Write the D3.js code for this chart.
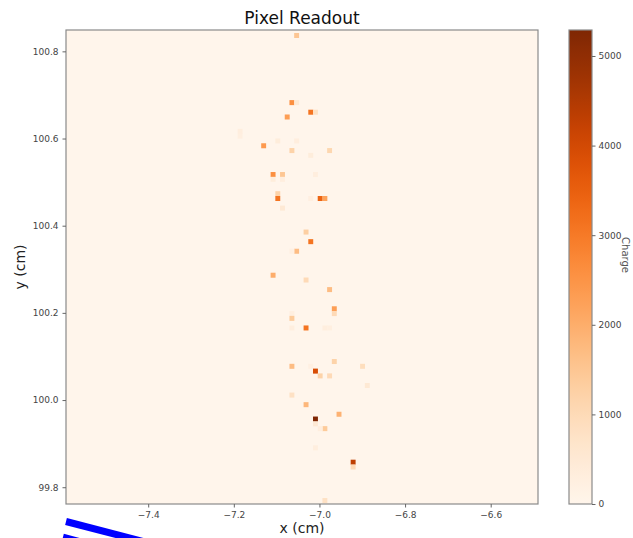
<!DOCTYPE html>
<html>
<head>
<meta charset="utf-8">
<script src="https://cdn.jsdelivr.net/npm/d3@7"></script>
<style>
  body { margin: 0; background: #fff; }
  svg { display: block; }
  svg text { font-family: 'DejaVu Sans', sans-serif; }
</style>
</head>
<body>
<svg width="633" height="538"></svg>
<script>
// Pixel readout data: pixel centres (cm) and charge
let pixelX = [
  -7.0533, -7.0643, -7.0533, -7.0203, -7.0093, -7.0753, -7.1853, -7.1853, -7.0973, -7.0533,
  -7.1303, -7.0643, -6.9763, -7.0203, -7.1083, -7.0863, -7.1083, -7.0863, -7.0093, -7.0973,
  -7.0973, -7.0203, -6.9983, -6.9873, -7.0863, -7.0313, -7.0203, -7.0533, -7.0643, -7.1083,
  -7.0313, -6.9763, -6.9653, -6.9653, -7.0643, -7.0643, -7.0313, -7.0643, -6.9873, -6.9763,
  -6.9653, -7.0643, -7.0203, -6.8993, -7.0093, -6.9983, -6.9763, -6.8883, -7.0643, -7.0313,
  -6.9543, -7.0093, -7.0093, -6.9873, -6.9983, -7.0093, -6.9213, -6.9213, -6.9873
];
let pixelY = [
  100.8364, 100.6824, 100.6824, 100.6604, 100.6604, 100.6494, 100.6164, 100.6054, 100.5944, 100.5944,
  100.5834, 100.5724, 100.5724, 100.5614, 100.5174, 100.5174, 100.5064, 100.5064, 100.5174, 100.4734,
  100.4624, 100.4624, 100.4624, 100.4624, 100.4404, 100.3854, 100.3634, 100.3414, 100.3414, 100.2864,
  100.2754, 100.2534, 100.2094, 100.1984, 100.1984, 100.1874, 100.1654, 100.1654, 100.1654, 100.1654,
  100.0884, 100.0774, 100.0774, 100.0774, 100.0664, 100.0554, 100.0554, 100.0334, 100.0114, 99.9894,
  99.9674, 99.9564, 99.9454, 99.9344, 99.9344, 99.8904, 99.8574, 99.8464, 99.7694
];
let charge = [
  1500, 2600, 500, 3100, 800, 2300, 300, 250, 350, 300,
  2400, 1200, 1100, 350, 2600, 1500, 350, 300, 300, 1200,
  3100, 250, 3400, 2200, 500, 1300, 3100, 1700, 200, 2000,
  1000, 1700, 2300, 1000, 250, 1400, 3100, 300, 300, 250,
  1200, 1700, 200, 900, 3900, 1200, 1000, 500, 800, 1800,
  1900, 5290, 500, 1400, 300, 300, 4300, 1000, 800
];

let xTicks = [-7.4, -7.2, -7.0, -6.8, -6.6];
let yTicks = [99.8, 100.0, 100.2, 100.4, 100.6, 100.8];
let cbTicks = [0, 1000, 2000, 3000, 4000, 5000];

let xDomain = [-7.592, -6.4895];
let yDomain = [99.7615, 100.849];
let chargeMax = 5290;
let pixelSize = 0.0115;

let svg = d3.select('svg');
let margin = { left: 66, right: 538, top: 30, bottom: 504 };

let x = d3.scaleLinear().domain(xDomain).range([margin.left, margin.right]);
let y = d3.scaleLinear().domain(yDomain).range([margin.bottom, margin.top]);
let color = d3.scaleSequential(d3.interpolateOranges).domain([0, chargeMax]);

let pixels = charge.map((c, i) => ({ x: pixelX[i], y: pixelY[i], c: c }));

// Plot background (zero charge)
svg.append('rect')
    .attr('x', margin.left)
    .attr('y', margin.top)
    .attr('width', margin.right - margin.left)
    .attr('height', margin.bottom - margin.top)
    .attr('fill', color(0));

// Pixels
svg.append('g')
    .selectAll('rect')
    .data(pixels)
    .enter().append('rect')
      .attr('x', d => x(d.x - pixelSize / 2))
      .attr('y', d => y(d.y + pixelSize / 2))
      .attr('width', d => x(d.x + pixelSize / 2) - x(d.x - pixelSize / 2))
      .attr('height', d => y(d.y - pixelSize / 2) - y(d.y + pixelSize / 2))
      .attr('fill', d => color(d.c));

// Frame
svg.append('rect')
    .attr('x', margin.left)
    .attr('y', margin.top)
    .attr('width', margin.right - margin.left)
    .attr('height', margin.bottom - margin.top)
    .attr('fill', 'none')
    .attr('stroke', '#8a8a8a')
    .attr('stroke-width', 1.2);

// Axes
let fmt = d => d3.format('.1f')(d).replace('-', '\u2212');

let xAxis = svg.append('g')
    .attr('transform', 'translate(0,' + margin.bottom + ')')
    .call(d3.axisBottom(x).tickValues(xTicks).tickFormat(fmt).tickSize(3.5).tickPadding(4));

let yAxis = svg.append('g')
    .attr('transform', 'translate(' + margin.left + ',0)')
    .call(d3.axisLeft(y).tickValues(yTicks).tickFormat(fmt).tickSize(3.5).tickPadding(4));

[xAxis, yAxis].forEach(a => {
  a.attr('font-family', null);
  a.select('.domain').remove();
  a.selectAll('line').attr('stroke', '#666');
  a.selectAll('text').attr('fill', '#444').style('font-size', '9px');
});

// Titles
svg.append('text')
    .attr('x', (margin.left + margin.right) / 2)
    .attr('y', 24)
    .attr('text-anchor', 'middle')
    .style('font-size', '17px')
    .attr('fill', '#111')
    .text('Pixel Readout');

svg.append('text')
    .attr('x', (margin.left + margin.right) / 2)
    .attr('y', 533)
    .attr('text-anchor', 'middle')
    .style('font-size', '14px')
    .attr('fill', '#222')
    .text('x (cm)');

svg.append('text')
    .attr('transform', 'translate(25,' + (margin.top + margin.bottom) / 2 + ') rotate(-90)')
    .attr('text-anchor', 'middle')
    .style('font-size', '14px')
    .attr('fill', '#222')
    .text('y (cm)');

// Colorbar
let cb = { left: 569, right: 592 };
let cbScale = d3.scaleLinear().domain([0, chargeMax]).range([margin.bottom, margin.top]);

let grad = svg.append('defs').append('linearGradient')
    .attr('id', 'cbgrad')
    .attr('x1', 0).attr('y1', 1).attr('x2', 0).attr('y2', 0);
grad.selectAll('stop')
    .data(d3.range(0, 1.0001, 0.02))
    .enter().append('stop')
      .attr('offset', d => d)
      .attr('stop-color', d => color(d * chargeMax));

svg.append('rect')
    .attr('x', cb.left)
    .attr('y', margin.top)
    .attr('width', cb.right - cb.left)
    .attr('height', margin.bottom - margin.top)
    .attr('fill', 'url(#cbgrad)')
    .attr('stroke', '#8a8a8a')
    .attr('stroke-width', 1.2);

let cbAxis = svg.append('g')
    .attr('transform', 'translate(' + cb.right + ',0)')
    .call(d3.axisRight(cbScale).tickValues(cbTicks).tickFormat(d3.format('d')).tickSize(3.5).tickPadding(3));
cbAxis.attr('font-family', null);
cbAxis.select('.domain').remove();
cbAxis.selectAll('line').attr('stroke', '#666');
cbAxis.selectAll('text').attr('fill', '#444').style('font-size', '9px');

svg.append('text')
    .attr('transform', 'translate(622,255) rotate(90)')
    .attr('text-anchor', 'middle')
    .style('font-size', '10px')
    .attr('fill', '#555')
    .text('Charge');

// Blue strokes in the lower left corner
svg.append('line')
    .attr('x1', 66).attr('y1', 521.5)
    .attr('x2', 170).attr('y2', 548.5)
    .attr('stroke', '#0000ff')
    .attr('stroke-width', 7);
svg.append('line')
    .attr('x1', 63).attr('y1', 537)
    .attr('x2', 120).attr('y2', 552)
    .attr('stroke', '#0000ff')
    .attr('stroke-width', 6.5);
</script>
</body>
</html>
